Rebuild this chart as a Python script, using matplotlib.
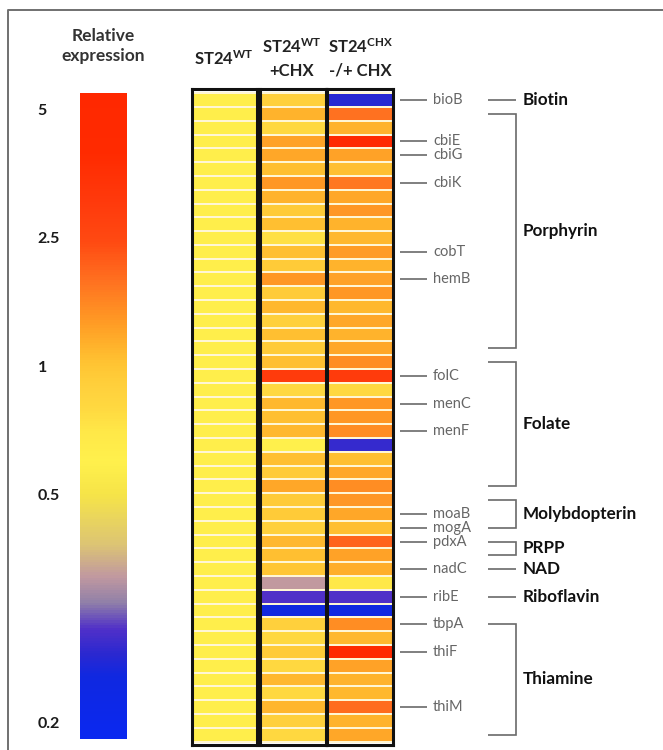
import numpy as np
import matplotlib
matplotlib.use('Agg')
import matplotlib.pyplot as plt
from matplotlib.colors import LinearSegmentedColormap, FuncNorm
from matplotlib.cm import ScalarMappable
from matplotlib.lines import Line2D

plt.rcParams['font.family'] = ['Lato', 'DejaVu Sans']
plt.rcParams['mathtext.fontset'] = 'custom'
plt.rcParams['mathtext.rm'] = 'Lato'
plt.rcParams['mathtext.bf'] = 'Lato:bold'
plt.rcParams['mathtext.it'] = 'Lato:italic'

# ---------------- data ----------------
header_line1 = [r'ST24$^{\mathbf{WT}}$', r'ST24$^{\mathbf{WT}}$', r'ST24$^{\mathbf{CHX}}$']
header_line2 = ['', '+CHX', '-/+ CHX']

wt = [0.62] * 47
wt_chx = [0.9, 1.15, 0.8, 1.3, 1.25, 1.05, 1.4, 1.15, 0.95, 1.05,
          0.75, 1.05, 0.95, 1.4, 0.95, 1.1, 0.9, 1.05, 0.95, 1.05,
          3.0, 0.8, 1.1, 1.05, 1.1, 0.6, 1.05, 0.95, 1.25, 0.95,
          0.95, 0.9, 1.1, 1.05, 1.0, 0.36, 0.29, 0.24, 0.9, 0.8,
          0.95, 0.8, 1.1, 0.8, 1.12, 0.9, 0.8]
chx = [0.26, 1.85, 1.15, 4.0, 1.3, 1.05, 1.75, 1.25, 1.4, 1.15,
       1.1, 1.35, 1.15, 1.3, 1.4, 1.1, 1.25, 1.15, 1.25, 1.5,
       3.0, 0.8, 1.4, 1.4, 1.5, 0.27, 1.05, 1.25, 1.5, 1.4,
       1.25, 1.05, 2.0, 1.3, 1.2, 0.7, 0.29, 0.24, 1.5, 1.1,
       4.2, 1.3, 1.15, 1.1, 1.9, 1.15, 1.25]

genes = ['bioB', 'cbiE', 'cbiG', 'cbiK', 'cobT', 'hemB', 'folC', 'menC', 'menF',
         'moaB', 'mogA', 'pdxA', 'nadC', 'ribE', 'tbpA', 'thiF', 'thiM']
gene_rows = [0, 3, 4, 6, 11, 13, 20, 22, 24, 30, 31, 32, 34, 36, 38, 40, 44]

groups = ['Biotin', 'Porphyrin', 'Folate', 'Molybdopterin', 'PRPP', 'NAD', 'Riboflavin', 'Thiamine']
group_start = [0, 1, 19, 29, 32, 34, 36, 38]
group_end = [0, 18, 28, 31, 33, 34, 36, 46]

cbar_ticks = [0.2, 0.5, 1, 2.5, 5]
cbar_labels = ['0.2', '0.5', '1', '2.5', '5']

# ---------------- colour scale ----------------
LV = np.log10([0.187, 0.2, 0.5, 1.0, 2.5, 5.0, 5.48])
FR = np.array([0.0, 0.026, 0.378, 0.577, 0.776, 0.974, 1.0])

def fwd(v):
    v = np.clip(np.asarray(v, dtype=float), 1e-3, None)
    return np.interp(np.log10(v), LV, FR)

def inv(f):
    return 10 ** np.interp(np.asarray(f, dtype=float), FR, LV)

norm = FuncNorm((fwd, inv), vmin=0.187, vmax=5.48)

cmap = LinearSegmentedColormap.from_list('relexp', [
    (0.0, '#0A28F0'), (0.096, '#1028E0'), (0.13, '#2A28D0'), (0.169, '#5030C8'),
    (0.21, '#9080A8'), (0.25, '#C098A0'), (0.30, '#DCC474'), (0.378, '#F6E448'),
    (0.43, '#FFF04C'), (0.475, '#FFE848'), (0.513, '#FFD840'), (0.547, '#FFD03C'),
    (0.577, '#FFC634'), (0.607, '#FFB42C'), (0.65, '#FF9824'), (0.711, '#FF7020'),
    (0.77, '#FF4A12'), (0.83, '#FF3A0C'), (0.91, '#FF2A00'), (1.0, '#FF2800')])

# ---------------- layout ----------------
W, H = 663, 750
fig = plt.figure(figsize=(W / 100, H / 100), dpi=100)

def box(x0, y0, x1, y1):
    return [x0 / W, 1 - y1 / H, (x1 - x0) / W, (y1 - y0) / H]

nrows = len(wt)
YLIM = (nrows + 0.25, -0.3)
col_boxes = [(192, 89, 257, 745), (260, 89, 326, 745), (327, 89, 393, 745)]
header_x = [224, 292, 360]
HFS = 12

for k, vals in enumerate([wt, wt_chx, chx]):
    ax = fig.add_axes(box(*col_boxes[k]))
    data = np.array(vals, dtype=float).reshape(-1, 1)
    ax.pcolormesh(np.arange(2), np.arange(nrows + 1), data, cmap=cmap, norm=norm,
                  edgecolors='#FFF6D4', linewidth=1.2)
    ax.set_xlim(0, 1)
    ax.set_ylim(*YLIM)
    ax.set_xticks([])
    ax.set_yticks([])
    for s in ax.spines.values():
        s.set_linewidth(2.2)
        s.set_color('#111111')
    if header_line2[k]:
        fig.text(header_x[k] / W, 1 - 47 / H, header_line1[k], ha='center', va='center',
                 fontsize=HFS, fontweight='bold', color='#222222')
        fig.text(header_x[k] / W, 1 - 71 / H, header_line2[k], ha='center', va='center',
                 fontsize=HFS, fontweight='bold', color='#222222')
    else:
        fig.text(header_x[k] / W, 1 - 59 / H, header_line1[k], ha='center', va='center',
                 fontsize=HFS, fontweight='bold', color='#222222')

# colour bar
cax = fig.add_axes(box(80, 93, 127, 739))
sm = ScalarMappable(norm=norm, cmap=cmap)
cb = fig.colorbar(sm, cax=cax, ticks=cbar_ticks)
cb.outline.set_visible(False)
cb.minorticks_off()
cb.set_ticks(cbar_ticks)
cb.set_ticklabels(cbar_labels)
cax.yaxis.set_ticks_position('left')
cax.tick_params(axis='y', length=0, pad=30.5, labelsize=11.5)
for t in cax.get_yticklabels():
    t.set_ha('left')
    t.set_fontweight('bold')
    t.set_color('#1a1a1a')

fig.text(103 / W, 1 - 46 / H, 'Relative\nexpression', ha='center', va='center',
         fontsize=12.5, fontweight='bold', color='#333333', linespacing=1.3)

# gene / pathway annotations
ann = fig.add_axes(box(393, 89, 663, 745))
ann.set_xlim(393, 663)
ann.set_ylim(*YLIM)
ann.axis('off')
lc = '#6a6a6a'
for g, r in zip(genes, gene_rows):
    ann.plot([400, 427], [r + 0.5, r + 0.5], color=lc, lw=1.2, solid_capstyle='butt')
    ann.text(433, r + 0.5, g, ha='left', va='center', fontsize=10.5, color='#666666')
for name, s, e in zip(groups, group_start, group_end):
    ys, ye = s + 0.5, e + 0.5
    if s == e:
        ann.plot([488, 516], [ys, ys], color=lc, lw=1.2, solid_capstyle='butt')
    else:
        ann.plot([488, 516, 516, 488], [ys, ys, ye, ye], color=lc, lw=1.2,
                 solid_joinstyle='miter', solid_capstyle='butt')
    ann.text(523, (ys + ye) / 2, name, ha='left', va='center', fontsize=12.3,
             fontweight='bold', color='#111111')

# figure frame (left and top edges visible)
fig.add_artist(Line2D([8 / W, 8 / W, 1.0], [0.0, 1 - 10 / H, 1 - 10 / H],
                      transform=fig.transFigure, color='#707070', lw=1.4))

fig.savefig('out.png', dpi=100)
